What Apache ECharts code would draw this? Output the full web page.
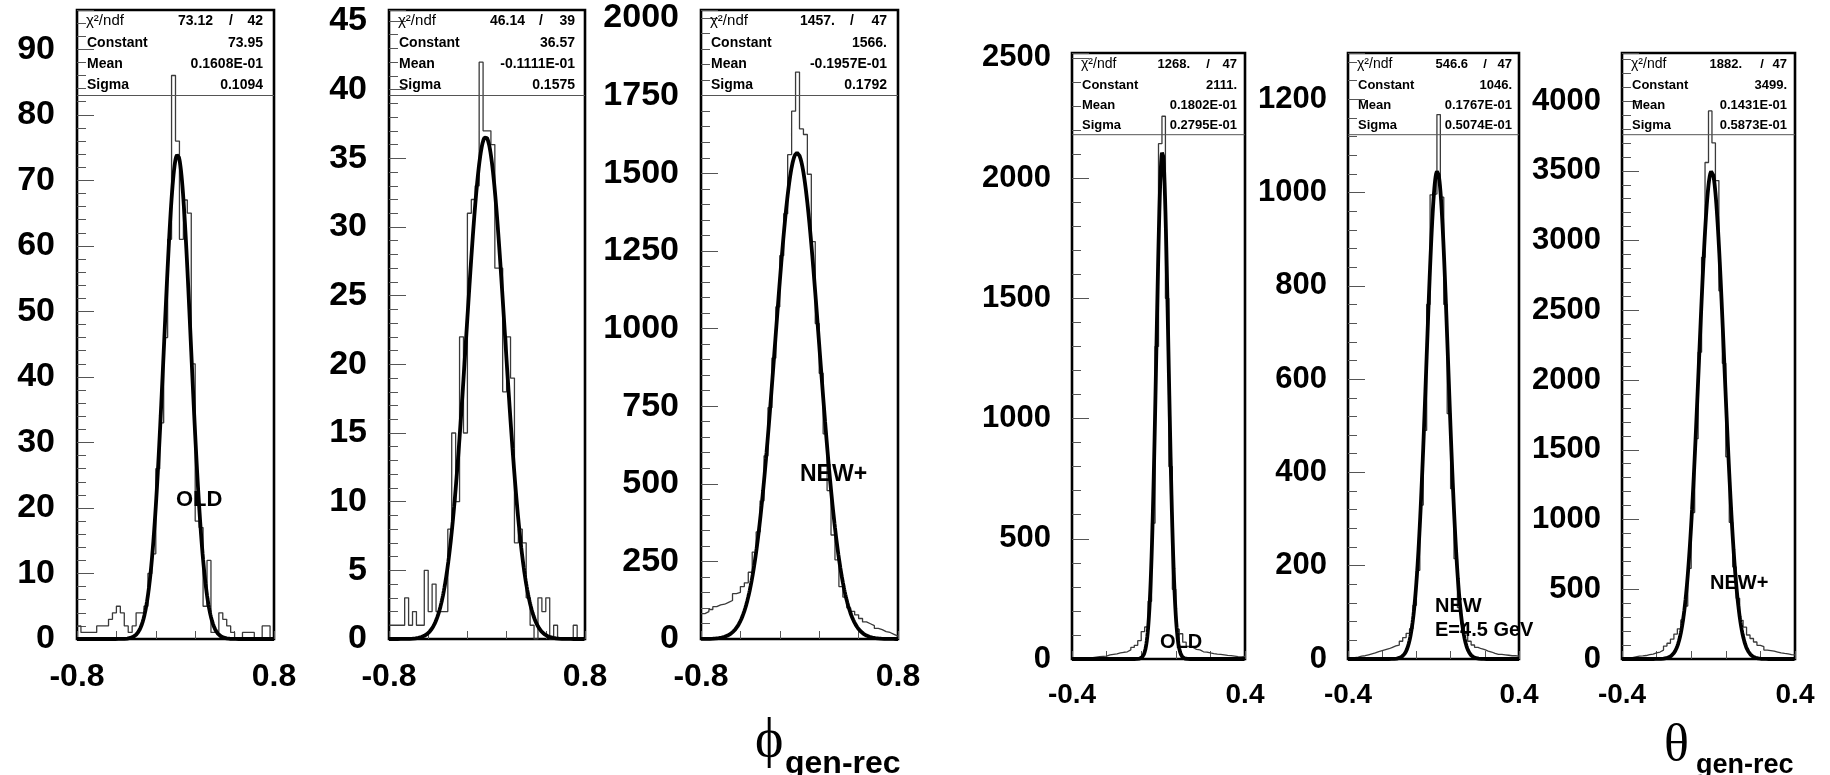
<!DOCTYPE html>
<html>
<head>
<meta charset="utf-8">
<script src="https://cdn.jsdelivr.net/npm/echarts@6/dist/echarts.min.js"></script>
<style>
html,body{margin:0;padding:0;background:#fff;}
#c{width:1830px;height:775px;}
</style>
</head>
<body>
<div id="c"></div>
<script>
// ---------- DATA (bin contents, 50 bins each) ----------
const phiOld = [2,1,1,1,1,2,2,2,3,4, 5,4,2,1,2,4,4,5,10,13, 26,33,46,61,86,76,61,67,65,42, 18,17,5,12,1,1,4,3,2,1, 0,0,1,1,1,0,0,2,2,0];
const phiNew = [1,1,1,1,3,1,2,1,1,5, 2,4,2,2,2,8,15,10,22,15, 31,32,33,42,37,37,36,27,27,18, 22,19,7,8,7,3,1,0,3,2, 3,0,1,0,0,0,0,1,0,0];
const phiNewPlus = [82,88,95,104,110,112,118,124,146,150, 169,181,215,280,345,445,590,745,905,1070, 1235,1370,1560,1700,1826,1643,1625,1497,1280,1016, 856,661,478,335,255,169,135,100,89,78, 66,55,49,43,34,30,24,21,15,9];
const thetaOld = [2,3,3,4,5,6,8,10,11,12, 17,19,21,25,28,30,38,48,57,76, 114,133,240,565,1300,2143,2257,1500,800,290, 124,105,70,52,48,40,38,30,29,25, 22,20,19,17,15,14,12,10,9,11];
const thetaNew = [2,3,4,6,7,9,11,13,16,18, 20,22,25,28,30,38,46,55,65,115, 190,330,490,760,995,997,1167,990,760,526, 365,215,110,75,55,38,30,25,22,20, 17,15,12,10,10,9,8,7,7,6];
const thetaNewPlus = [5,8,10,15,20,22,25,32,35,44, 50,64,93,113,142,179,216,280,380,650, 1050,1580,2200,2880,3560,3930,3700,3430,2640,2120, 1450,980,660,435,277,228,172,147,122,98, 88,64,60,56,50,44,40,37,32,30];

// fit parameters (Gaussian: Constant, Mean, Sigma)
const fitConstant = [73.95, 36.57, 1566, 2111, 1046, 3499];
const fitMean = [0.01608, -0.01111, -0.01957, 0.01802, 0.01767, 0.01431];
const fitSigma = [0.1094, 0.1575, 0.1792, 0.02795, 0.05074, 0.05873];

// stat box texts
const statChi2 = ['73.12', '46.14', '1457.', '1268.', '546.6', '1882.'];
const statNdf = ['42', '39', '47', '47', '47', '47'];
const statConstant = ['73.95', '36.57', '1566.', '2111.', '1046.', '3499.'];
const statMean = ['0.1608E-01', '-0.1111E-01', '-0.1957E-01', '0.1802E-01', '0.1767E-01', '0.1431E-01'];
const statSigma = ['0.1094', '0.1575', '0.1792', '0.2795E-01', '0.5074E-01', '0.5873E-01'];
const statNames = ['Constant', 'Mean', 'Sigma'];

// panel labels
const panelLabels = [['OLD'], [], ['NEW+'], ['OLD'], ['NEW', 'E=4.5 GeV'], ['NEW+']];

// axes
const xRangePhi = [-0.8, 0.8];
const xRangeTheta = [-0.4, 0.4];
const xLabelsPhi = ['-0.8', '0.8'];
const xLabelsTheta = ['-0.4', '0.4'];
const yMax = [96.0, 45.8, 2026, 2520, 1299, 4345];
const yInterval = [10, 5, 250, 500, 200, 500];
const axisTitles = [['ϕ', 'gen-rec'], ['θ', 'gen-rec']];

// ---------- LAYOUT ----------
const hists = [phiOld, phiNew, phiNewPlus, thetaOld, thetaNew, thetaNewPlus];
const L = [
  {left:77,  top:10, width:197, height:629, statY:95.5, rows:[21,43,64,85.5], fs:14, yfs:34, xfs:32, yMargin:22, xMargin:22, phi:true,  st:[61,43,11]},
  {left:389, top:10, width:196, height:629, statY:95.5, rows:[21,43,64,85.5], fs:14, yfs:34, xfs:32, yMargin:22, xMargin:22, phi:true,  st:[60,44,10]},
  {left:701, top:10, width:197, height:629, statY:95.5, rows:[21,43,64,85.5], fs:14, yfs:34, xfs:32, yMargin:22, xMargin:22, phi:true,  st:[63,46,11]},
  {left:1072, top:53, width:173, height:606, statY:134.7, rows:[64,85,105,125.5], fs:13, yfs:31, xfs:28, yMargin:21, xMargin:22, phi:false, st:[55,37,8]},
  {left:1348, top:53, width:171, height:606, statY:134.7, rows:[64,85,105,125.5], fs:13, yfs:31, xfs:28, yMargin:21, xMargin:22, phi:false, st:[51,34,7]},
  {left:1622, top:53, width:173, height:606, statY:134.7, rows:[64,85,105,125.5], fs:13, yfs:31, xfs:28, yMargin:21, xMargin:22, phi:false, st:[53,33,8]}
];
const labelPos = [[176,500,22],[0,0,0],[800,475,23],[1160,642,20],[1435,606,20],[1710,583,20]];
const FONT = '"Liberation Sans", Arial, Helvetica, sans-serif';

const grids = [], xAxes = [], yAxes = [], series = [], graphics = [];

L.forEach((p, i) => {
  const range = p.phi ? xRangePhi : xRangeTheta;
  const xl = p.phi ? xLabelsPhi : xLabelsTheta;
  grids.push({left:p.left, top:p.top, width:p.width, height:p.height, show:true,
    borderColor:'#000', borderWidth:2.6, backgroundColor:'transparent', containLabel:false});
  // main x axis with end labels
  xAxes.push({gridIndex:i, type:'value', min:range[0], max:range[1], interval:range[1],
    position:'bottom',
    axisLine:{show:false, onZero:false}, axisTick:{show:false}, splitLine:{show:false},
    axisLabel:{show:true, margin:p.xMargin, fontSize:p.xfs, fontWeight:'bold', color:'#000', fontFamily:FONT,
      formatter:(v) => Math.abs(v - range[0]) < 1e-9 ? xl[0] : (Math.abs(v - range[1]) < 1e-9 ? xl[1] : '')}
  });
  // division tick axis (5 divisions of the frame)
  xAxes.push({gridIndex:i, type:'value', min:0, max:5, interval:1, position:'bottom',
    axisLine:{show:false, onZero:false}, axisLabel:{show:false}, splitLine:{show:false},
    axisTick:{show:true, inside:true, length:8, lineStyle:{color:'#555', width:1}}
  });
  const itv = yInterval[i];
  yAxes.push({gridIndex:i, type:'value', min:0, max:yMax[i], interval:itv, position:'left',
    axisLine:{show:false, onZero:false}, splitLine:{show:false}, minorSplitLine:{show:false},
    axisTick:{show:true, inside:true, length:17, lineStyle:{color:'#555', width:1}},
    minorTick:{show:true, splitNumber:5, length:9, lineStyle:{color:'#555', width:1}},
    axisLabel:{margin:p.yMargin, fontSize:p.yfs, fontWeight:'bold', color:'#000', fontFamily:FONT,
      formatter:(v) => { const k = v / itv; return Math.abs(k - Math.round(k)) < 1e-6 ? String(Math.round(v)) : ''; }}
  });
  // histogram as step line from bin edges
  const h = hists[i], n = h.length, w = (range[1] - range[0]) / n;
  const pts = h.map((v, k) => [range[0] + k * w, v]);
  pts.push([range[1], h[n - 1]]);
  series.push({type:'line', xAxisIndex:2 * i, yAxisIndex:i, data:pts, step:'end', symbol:'none',
    lineStyle:{color:'#3a3a3a', width:1.3}, z:2, silent:true, animation:false});
  // gaussian fit curve from fit parameters
  const fpts = [];
  const NP = 400;
  for (let k = 0; k <= NP; k++) {
    const x = range[0] + (range[1] - range[0]) * k / NP;
    const z = (x - fitMean[i]) / fitSigma[i];
    fpts.push([x, fitConstant[i] * Math.exp(-0.5 * z * z)]);
  }
  series.push({type:'line', xAxisIndex:2 * i, yAxisIndex:i, data:fpts, symbol:'none', smooth:false,
    lineStyle:{color:'#000', width:3.8}, z:3, silent:true, animation:false});

  // stat box
  const right = p.left + p.width;
  graphics.push({type:'line', silent:true, z:10,
    shape:{x1:p.left, y1:p.statY, x2:right, y2:p.statY}, style:{stroke:'#555', lineWidth:1}});
  const txt = (x, y, s, font, align) => ({type:'text', x:x, y:y, silent:true, z:11,
    style:{text:s, font:font, fill:'#000', align:align, textAlign:align, verticalAlign:'middle', textVerticalAlign:'middle'}});
  const bold = 'bold ' + p.fs + 'px ' + FONT;
  const norm = (p.fs + 1) + 'px ' + FONT;
  graphics.push(txt(p.left + 9, p.rows[0], 'χ²/ndf', norm, 'left'));
  graphics.push(txt(right - p.st[0], p.rows[0], statChi2[i], bold, 'right'));
  graphics.push(txt(right - p.st[1], p.rows[0], '/', bold, 'center'));
  graphics.push(txt(right - p.st[2], p.rows[0], statNdf[i], bold, 'right'));
  const vals = [statConstant[i], statMean[i], statSigma[i]];
  statNames.forEach((nm, r) => {
    graphics.push(txt(p.left + 10, p.rows[r + 1], nm, bold, 'left'));
    graphics.push(txt(right - p.st[2], p.rows[r + 1], vals[r], bold, 'right'));
  });
  // panel labels
  const lp = labelPos[i];
  panelLabels[i].forEach((s, r) => {
    graphics.push(txt(lp[0], lp[1] + r * 24, s, 'bold ' + lp[2] + 'px ' + FONT, 'left'));
  });
});

// axis titles
graphics.push({type:'text', x:755, y:742, silent:true, z:11,
  style:{text:axisTitles[0][0], font:'54px "Liberation Serif", "DejaVu Serif", serif', fill:'#000', align:'left', textAlign:'left', verticalAlign:'middle', textVerticalAlign:'middle'}});
graphics.push({type:'text', x:785, y:764, silent:true, z:11,
  style:{text:axisTitles[0][1], font:'bold 32px ' + FONT, fill:'#000', align:'left', textAlign:'left', verticalAlign:'middle', textVerticalAlign:'middle'}});
graphics.push({type:'text', x:1664, y:746, silent:true, z:11,
  style:{text:axisTitles[1][0], font:'52px "Liberation Serif", "DejaVu Serif", serif', fill:'#000', align:'left', textAlign:'left', verticalAlign:'middle', textVerticalAlign:'middle'}});
graphics.push({type:'text', x:1696, y:766, silent:true, z:11,
  style:{text:axisTitles[1][1], font:'bold 27px ' + FONT, fill:'#000', align:'left', textAlign:'left', verticalAlign:'middle', textVerticalAlign:'middle'}});

const chart = echarts.init(document.getElementById('c'));
chart.setOption({
  animation:false,
  backgroundColor:'#fff',
  grid:grids, xAxis:xAxes, yAxis:yAxes, series:series, graphic:graphics
});
</script>
</body>
</html>
